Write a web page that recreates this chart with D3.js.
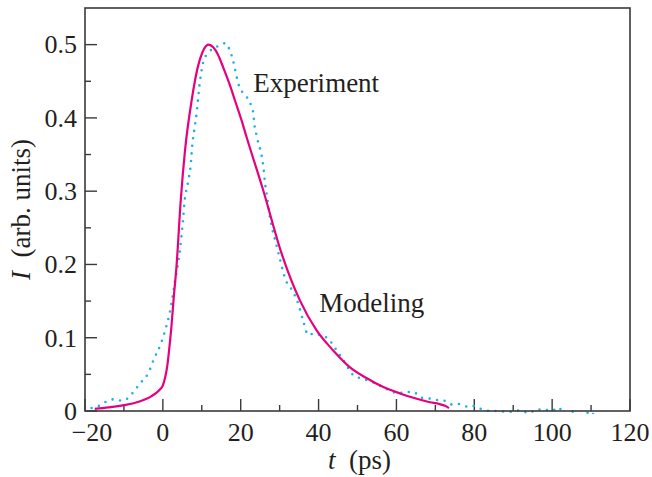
<!DOCTYPE html>
<html>
<head>
<meta charset="utf-8">
<script src="https://cdn.jsdelivr.net/npm/d3@7"></script>
<style>
  body { margin: 0; background: #fff; }
  text { font-family: "Liberation Serif", "Times New Roman", serif; fill: #231f20; }
  .frame { fill: none; stroke: #3a3a3a; stroke-width: 1.6; }
  .tick-line { stroke: #3a3a3a; stroke-width: 1.4; }
</style>
</head>
<body>
<svg width="652" height="477"></svg>
<script>
// experiment (dotted cyan): time in ps, intensity
var expT = [-18.3, -16.4, -14.5, -12.5, -10.4, -8.5, -7, -5.3, -3.8, -2.2, -0.5, 0.8, 1.8, 2.5, 3.1, 3.8,
  4.4, 4.8, 5.2, 5.5, 6.5, 7.1, 7.6, 8.2, 8.7, 9.3, 9.8, 10.5, 11.6, 12.9, 14.2, 16.1, 17.2, 17.9, 18.8,
  19.2, 20.0, 21.5, 22.6, 23.2, 23.6, 24.1, 24.5, 25.1, 25.8, 26.2, 26.8, 27.3, 28.0, 29.0, 30.0, 31.0,
  31.8, 33.1, 34.8, 36.0, 37.3, 39.0, 41.0, 42.5, 43.7, 46.3, 48.9, 50.6, 52.5, 54.5, 56.6, 58.3, 60.4,
  62.4, 64.3, 66.5, 68.4, 70.3, 72.3, 74.2, 76.1, 78.2, 80.1, 82.1, 84.2, 86, 88, 90, 91.9, 94, 96,
  97.9, 99.8, 101.7, 103.6, 105.6, 107.6, 109.7, 112, 115, 117.5, 119.7, 120];
var expI = [0.004, 0.007, 0.013, 0.016, 0.014, 0.020, 0.030, 0.041, 0.051, 0.072, 0.092, 0.114, 0.135, 0.156, 0.177, 0.198,
  0.220, 0.240, 0.262, 0.282, 0.313, 0.333, 0.365, 0.388, 0.408, 0.440, 0.460, 0.479, 0.488, 0.495, 0.498, 0.502, 0.492, 0.481, 0.460,
  0.450, 0.439, 0.429, 0.418, 0.408, 0.387, 0.376, 0.366, 0.355, 0.334, 0.313, 0.291, 0.271, 0.251, 0.230, 0.209, 0.188,
  0.176, 0.166, 0.146, 0.124, 0.104, 0.106, 0.102, 0.099, 0.090, 0.070, 0.049, 0.045, 0.042, 0.038, 0.032, 0.028, 0.024,
  0.026, 0.026, 0.018, 0.017, 0.015, 0.014, 0.009, 0.0095, 0.006, 0.007, 0.002, 0.000, 0.000, -0.001, -0.001, 0.001, -0.003, 0.002,
  0.002, 0.000, 0.005, -0.012, 0.000, -0.012, 0.000, -0.015, -0.015, -0.012, 0.000, 0.000];

// modeling (solid magenta)
var modT = [-17.5, -14, -10, -6, -3, -1, 0, 0.6, 1.2, 1.7, 2.2, 2.8, 3.5, 4.6, 5.7, 7.4, 9, 10.2, 11.7, 13, 14.1, 15.5, 17.2,
  18.7, 20.2, 21.5, 25.8, 30.5, 35.2, 39.5, 43.7, 48, 52.3, 56.5, 60.9, 65, 68.6, 71, 72.5, 73.5];
var modI = [0.003, 0.005, 0.008, 0.013, 0.020, 0.028, 0.035, 0.046, 0.064, 0.088, 0.115, 0.155, 0.197, 0.288, 0.356, 0.424, 0.470, 0.490, 0.500, 0.496, 0.487, 0.469, 0.445,
  0.421, 0.397, 0.374, 0.301, 0.215, 0.151, 0.110, 0.083, 0.060, 0.045, 0.033, 0.024, 0.017, 0.012, 0.0095, 0.007, 0.004];

var xMajor = [-20, 0, 20, 40, 60, 80, 100, 120];
var xMinor = [-10, 10, 30, 50, 70, 90, 110];
var yMajor = [0, 0.1, 0.2, 0.3, 0.4, 0.5];
var yMinor = [0.05, 0.15, 0.25, 0.35, 0.45];

var svg = d3.select("svg"),
  margin = {top: 8, right: 22, bottom: 66, left: 85},
  width = +svg.attr("width") - margin.left - margin.right,
  height = +svg.attr("height") - margin.top - margin.bottom,
  g = svg.append("g").attr("transform", "translate(" + margin.left + "," + margin.top + ")");

var x = d3.scaleLinear().domain([-20, 120]).range([0, width]),
  y = d3.scaleLinear().domain([0, 0.55]).range([height, 0]);

// let dots that sit on the axis line show, hide the ones that dip under it
g.append("clipPath").attr("id", "clip")
  .append("rect").attr("y", -5).attr("width", width + 3).attr("height", height + 8);

// inward ticks, bottom
g.selectAll(".xmaj").data(xMajor).enter().append("line")
  .attr("class", "tick-line")
  .attr("x1", function(d) { return x(d); }).attr("x2", function(d) { return x(d); })
  .attr("y1", height).attr("y2", height - 12);
g.selectAll(".xmin").data(xMinor).enter().append("line")
  .attr("class", "tick-line")
  .attr("x1", function(d) { return x(d); }).attr("x2", function(d) { return x(d); })
  .attr("y1", height).attr("y2", height - 6);

// inward ticks, left
g.selectAll(".ymaj").data(yMajor).enter().append("line")
  .attr("class", "tick-line")
  .attr("y1", function(d) { return y(d); }).attr("y2", function(d) { return y(d); })
  .attr("x1", 0).attr("x2", 12);
g.selectAll(".ymin").data(yMinor).enter().append("line")
  .attr("class", "tick-line")
  .attr("y1", function(d) { return y(d); }).attr("y2", function(d) { return y(d); })
  .attr("x1", 0).attr("x2", 6);

var fmtX = d3.format("d");
g.selectAll(".xlab").data(xMajor).enter().append("text")
  .attr("x", function(d) { return x(d) + (d < 0 ? 7 : 0); })
  .attr("y", height + 30)
  .attr("text-anchor", "middle")
  .style("font-size", "26px")
  .text(function(d) { return fmtX(d); });

g.selectAll(".ylab").data(yMajor).enter().append("text")
  .attr("x", -8)
  .attr("y", function(d) { return y(d); })
  .attr("dy", "0.34em")
  .attr("text-anchor", "end")
  .style("font-size", "26px")
  .text(function(d) { return d === 0 ? "0" : d3.format(".1f")(d); });

// axis titles
var xt = g.append("text")
  .attr("x", width / 2 + 2)
  .attr("y", height + 58)
  .attr("text-anchor", "middle")
  .style("font-size", "27px");
xt.append("tspan").style("font-style", "italic").text("t");
xt.append("tspan").attr("xml:space", "preserve").text("  (ps)");

var yt = g.append("text")
  .attr("transform", "translate(" + (-55) + "," + (height / 2) + ") rotate(-90)")
  .attr("text-anchor", "middle")
  .style("font-size", "27px");
yt.append("tspan").style("font-style", "italic").text("I");
yt.append("tspan").attr("xml:space", "preserve").text("  (arb. units)");

var line = d3.line()
  .curve(d3.curveMonotoneX)
  .x(function(d) { return x(d[0]); })
  .y(function(d) { return y(d[1]); });

var expData = expT.map(function(t, i) { return [t, expI[i]]; });
var modData = modT.map(function(t, i) { return [t, modI[i]]; });

g.append("path")
  .datum(expData)
  .attr("clip-path", "url(#clip)")
  .attr("d", line)
  .style("fill", "none")
  .style("stroke", "#1fb0e8")
  .style("stroke-width", 2.6)
  .style("stroke-linecap", "round")
  .style("stroke-dasharray", "0,7.6");

g.append("path")
  .datum(modData)
  .attr("d", line)
  .style("fill", "none")
  .style("stroke", "#e6007e")
  .style("stroke-width", 2.2);

g.append("rect")
  .attr("class", "frame")
  .attr("width", width)
  .attr("height", height);

// curve labels
g.append("text")
  .attr("x", x(23.2))
  .attr("y", y(0.435))
  .style("font-size", "27px")
  .text("Experiment");
g.append("text")
  .attr("x", x(40.2))
  .attr("y", y(0.135))
  .style("font-size", "27px")
  .text("Modeling");
</script>
</body>
</html>
